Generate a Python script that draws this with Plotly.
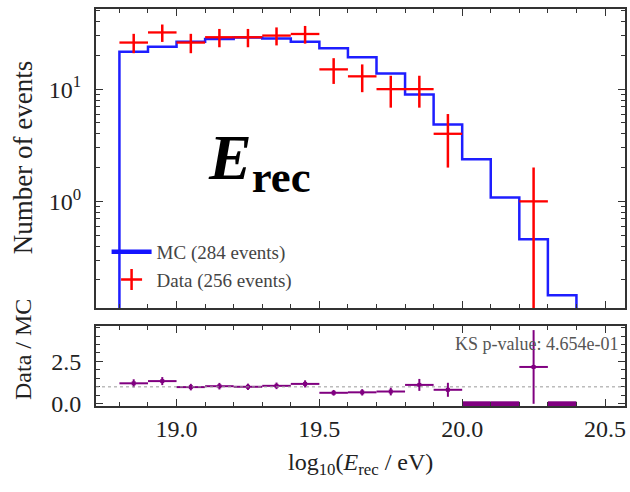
import numpy as np
import plotly.graph_objects as go

# ---- data ----
bin_edges = [18.8, 18.9, 19.0, 19.1, 19.2, 19.3, 19.4, 19.5, 19.6, 19.7,
             19.8, 19.9, 20.0, 20.1, 20.2, 20.3, 20.4]
mc_counts = [21.5, 23.9, 26.4, 27.9, 28.9, 28.3, 26.4, 23.1, 19.2, 13.8,
             8.97, 4.84, 2.37, 1.08, 0.46, 0.146]
data_counts = [26, 32, 26, 29, 29, 30, 31, 15, 13, 10, 10, 4, 0, 0, 1, 0]
x_tick_vals = [19.0, 19.5, 20.0, 20.5]
x_tick_text = ["19.0", "19.5", "20.0", "20.5"]
ratio_tick_vals = [0.0, 2.5]
ratio_tick_text = ["0.0", "2.5"]
mc_label = "MC (284 events)"
data_label = "Data (256 events)"
ks_text = "KS p-value: 4.654e-01"

FONT = "Liberation Serif"
edges = np.array(bin_edges)
centers = 0.5 * (edges[:-1] + edges[1:])
half_w = 0.5 * np.diff(edges)
mc = np.array(mc_counts)
dat = np.array(data_counts, dtype=float)

fig = go.Figure()

# MC step histogram
tiny = 1e-4
hx = [edges[0]] + list(edges[:-1]) + [edges[-1]]
hy = [tiny] + list(mc) + [tiny]
fig.add_trace(go.Scatter(x=hx, y=hy, mode="lines", line_shape="hv",
                         line=dict(color="rgb(30,30,255)", width=2.5),
                         showlegend=False, xaxis="x", yaxis="y"))
# legend entry for MC (thicker sample line)
fig.add_trace(go.Scatter(x=[None], y=[None], mode="lines", name=mc_label,
                         line=dict(color="rgb(20,20,255)", width=4.5),
                         legendgroup="mc", showlegend=True, xaxis="x", yaxis="y"))

# Data crosses (skip empty bins on log axis)
m = dat > 0
err = np.sqrt(dat[m])
err_minus = np.minimum(err, dat[m] * 0.999)
fig.add_trace(go.Scatter(x=centers[m], y=dat[m], mode="markers",
                         marker=dict(size=1, color="rgba(255,0,0,0)"),
                         error_x=dict(type="data", array=half_w[m], width=0,
                                      thickness=2.3, color="red"),
                         error_y=dict(type="data", array=err, arrayminus=err_minus,
                                      width=0, thickness=2.5, color="red"),
                         xaxis="x", yaxis="y", showlegend=False))
# legend entry for data
fig.add_trace(go.Scatter(x=[None], y=[None], mode="markers", name=data_label,
                         marker=dict(symbol="cross-thin", size=15,
                                     line=dict(width=2.5, color="red")),
                         legendgroup="data", xaxis="x", yaxis="y", showlegend=True))

# Ratio panel
ratio = dat / mc
ratio_err = np.sqrt(dat) / mc
nz = dat > 0
fig.add_trace(go.Scatter(x=centers[nz], y=ratio[nz], mode="markers",
                         marker=dict(size=4, symbol="square", color="purple"),
                         error_x=dict(type="data", array=half_w[nz], width=0,
                                      thickness=2, color="purple"),
                         error_y=dict(type="data", array=ratio_err[nz], width=0,
                                      thickness=2, color="purple"),
                         xaxis="x2", yaxis="y2", showlegend=False))
z = ~nz
fig.add_trace(go.Scatter(x=centers[z], y=ratio[z], mode="markers",
                         marker=dict(size=1, color="rgba(0,0,0,0)"),
                         error_x=dict(type="data", array=half_w[z], width=0,
                                      thickness=5, color="purple"),
                         xaxis="x2", yaxis="y2", showlegend=False))

x_range = [18.718, 20.57]
axis_common = dict(showline=True, linecolor="#333", linewidth=2, mirror="allticks",
                   ticks="inside", ticklen=7, tickwidth=1.2, tickcolor="#333",
                   showgrid=False, zeroline=False,
                   tickfont=dict(family=FONT, size=24, color="#222"))

minor_log = [v * 10 ** k for k in (-1, 0, 1) for v in range(2, 10)]
fig.update_layout(
    width=630, height=492,
    margin=dict(l=96, r=3, t=9, b=86),
    paper_bgcolor="white", plot_bgcolor="white",
    xaxis=dict(domain=[0, 1], anchor="y", range=x_range, tickvals=x_tick_vals,
               showticklabels=False,
               minor=dict(ticks="inside", ticklen=4, dtick=0.1, tick0=18.0,
                          tickcolor="#333", showgrid=False),
               **axis_common),
    yaxis=dict(domain=[0.2469, 1], anchor="x", type="log", range=[-0.95, 1.714],
               tickvals=[1, 10], ticktext=["10<sup>0</sup>", "10<sup>1</sup>"],
               ticklabelstandoff=8,
               minor=dict(ticks="inside", ticklen=4, tickvals=minor_log,
                          tickcolor="#333", showgrid=False),
               **axis_common),
    xaxis2=dict(domain=[0, 1], anchor="y2", range=x_range, tickvals=x_tick_vals,
                ticktext=x_tick_text, ticklabelstandoff=0,
                minor=dict(ticks="inside", ticklen=4, dtick=0.1, tick0=18.0,
                           tickcolor="#333", showgrid=False),
                **axis_common),
    yaxis2=dict(domain=[0, 0.2015], anchor="x2", range=[-0.13, 4.59],
                tickvals=ratio_tick_vals, ticktext=ratio_tick_text,
                ticklabelstandoff=8,
                minor=dict(ticks="inside", ticklen=4, dtick=0.5, tick0=0,
                           tickcolor="#333", showgrid=False),
                **axis_common),
    legend=dict(x=0.02, y=0.2696, xanchor="left", yanchor="bottom",
                bgcolor="rgba(0,0,0,0)", font=dict(family=FONT, size=19, color="#444"),
                tracegroupgap=0, traceorder="grouped", itemwidth=40),
    showlegend=True,
)

# reference line at ratio 1
fig.add_shape(type="line", xref="x2 domain", yref="y2", x0=0, x1=1, y0=1, y1=1,
              line=dict(color="#999", width=1, dash="dot"))

fig.add_annotation(text="<b><i>E</i></b><b><sub>rec</sub></b>", xref="paper", yref="paper",
                   x=0.309, y=0.6146, xanchor="center", yanchor="middle", showarrow=False,
                   font=dict(family=FONT, size=64, color="black"))
fig.add_annotation(text=ks_text, xref="x2 domain", yref="y2 domain", x=0.99, y=0.93,
                   xanchor="right", yanchor="top", showarrow=False,
                   font=dict(family=FONT, size=18, color="#555"))
fig.add_annotation(text="Number of events", xref="paper", yref="paper", x=0, y=0.624,
                   xshift=-73, textangle=-90, showarrow=False, xanchor="center",
                   yanchor="middle", font=dict(family=FONT, size=27, color="#222"))
fig.add_annotation(text="Data / MC", xref="paper", yref="paper", x=0, y=0.141,
                   xshift=-73, textangle=-90, showarrow=False, xanchor="center",
                   yanchor="middle", font=dict(family=FONT, size=24, color="#222"))
fig.add_annotation(text="log<sub>10</sub>(<i>E</i><sub>rec</sub> / eV)", xref="paper",
                   yref="paper", x=0.5, y=0, yshift=-58, showarrow=False,
                   xanchor="center", yanchor="middle",
                   font=dict(family=FONT, size=24, color="#222"))

fig.write_html("out.html")
